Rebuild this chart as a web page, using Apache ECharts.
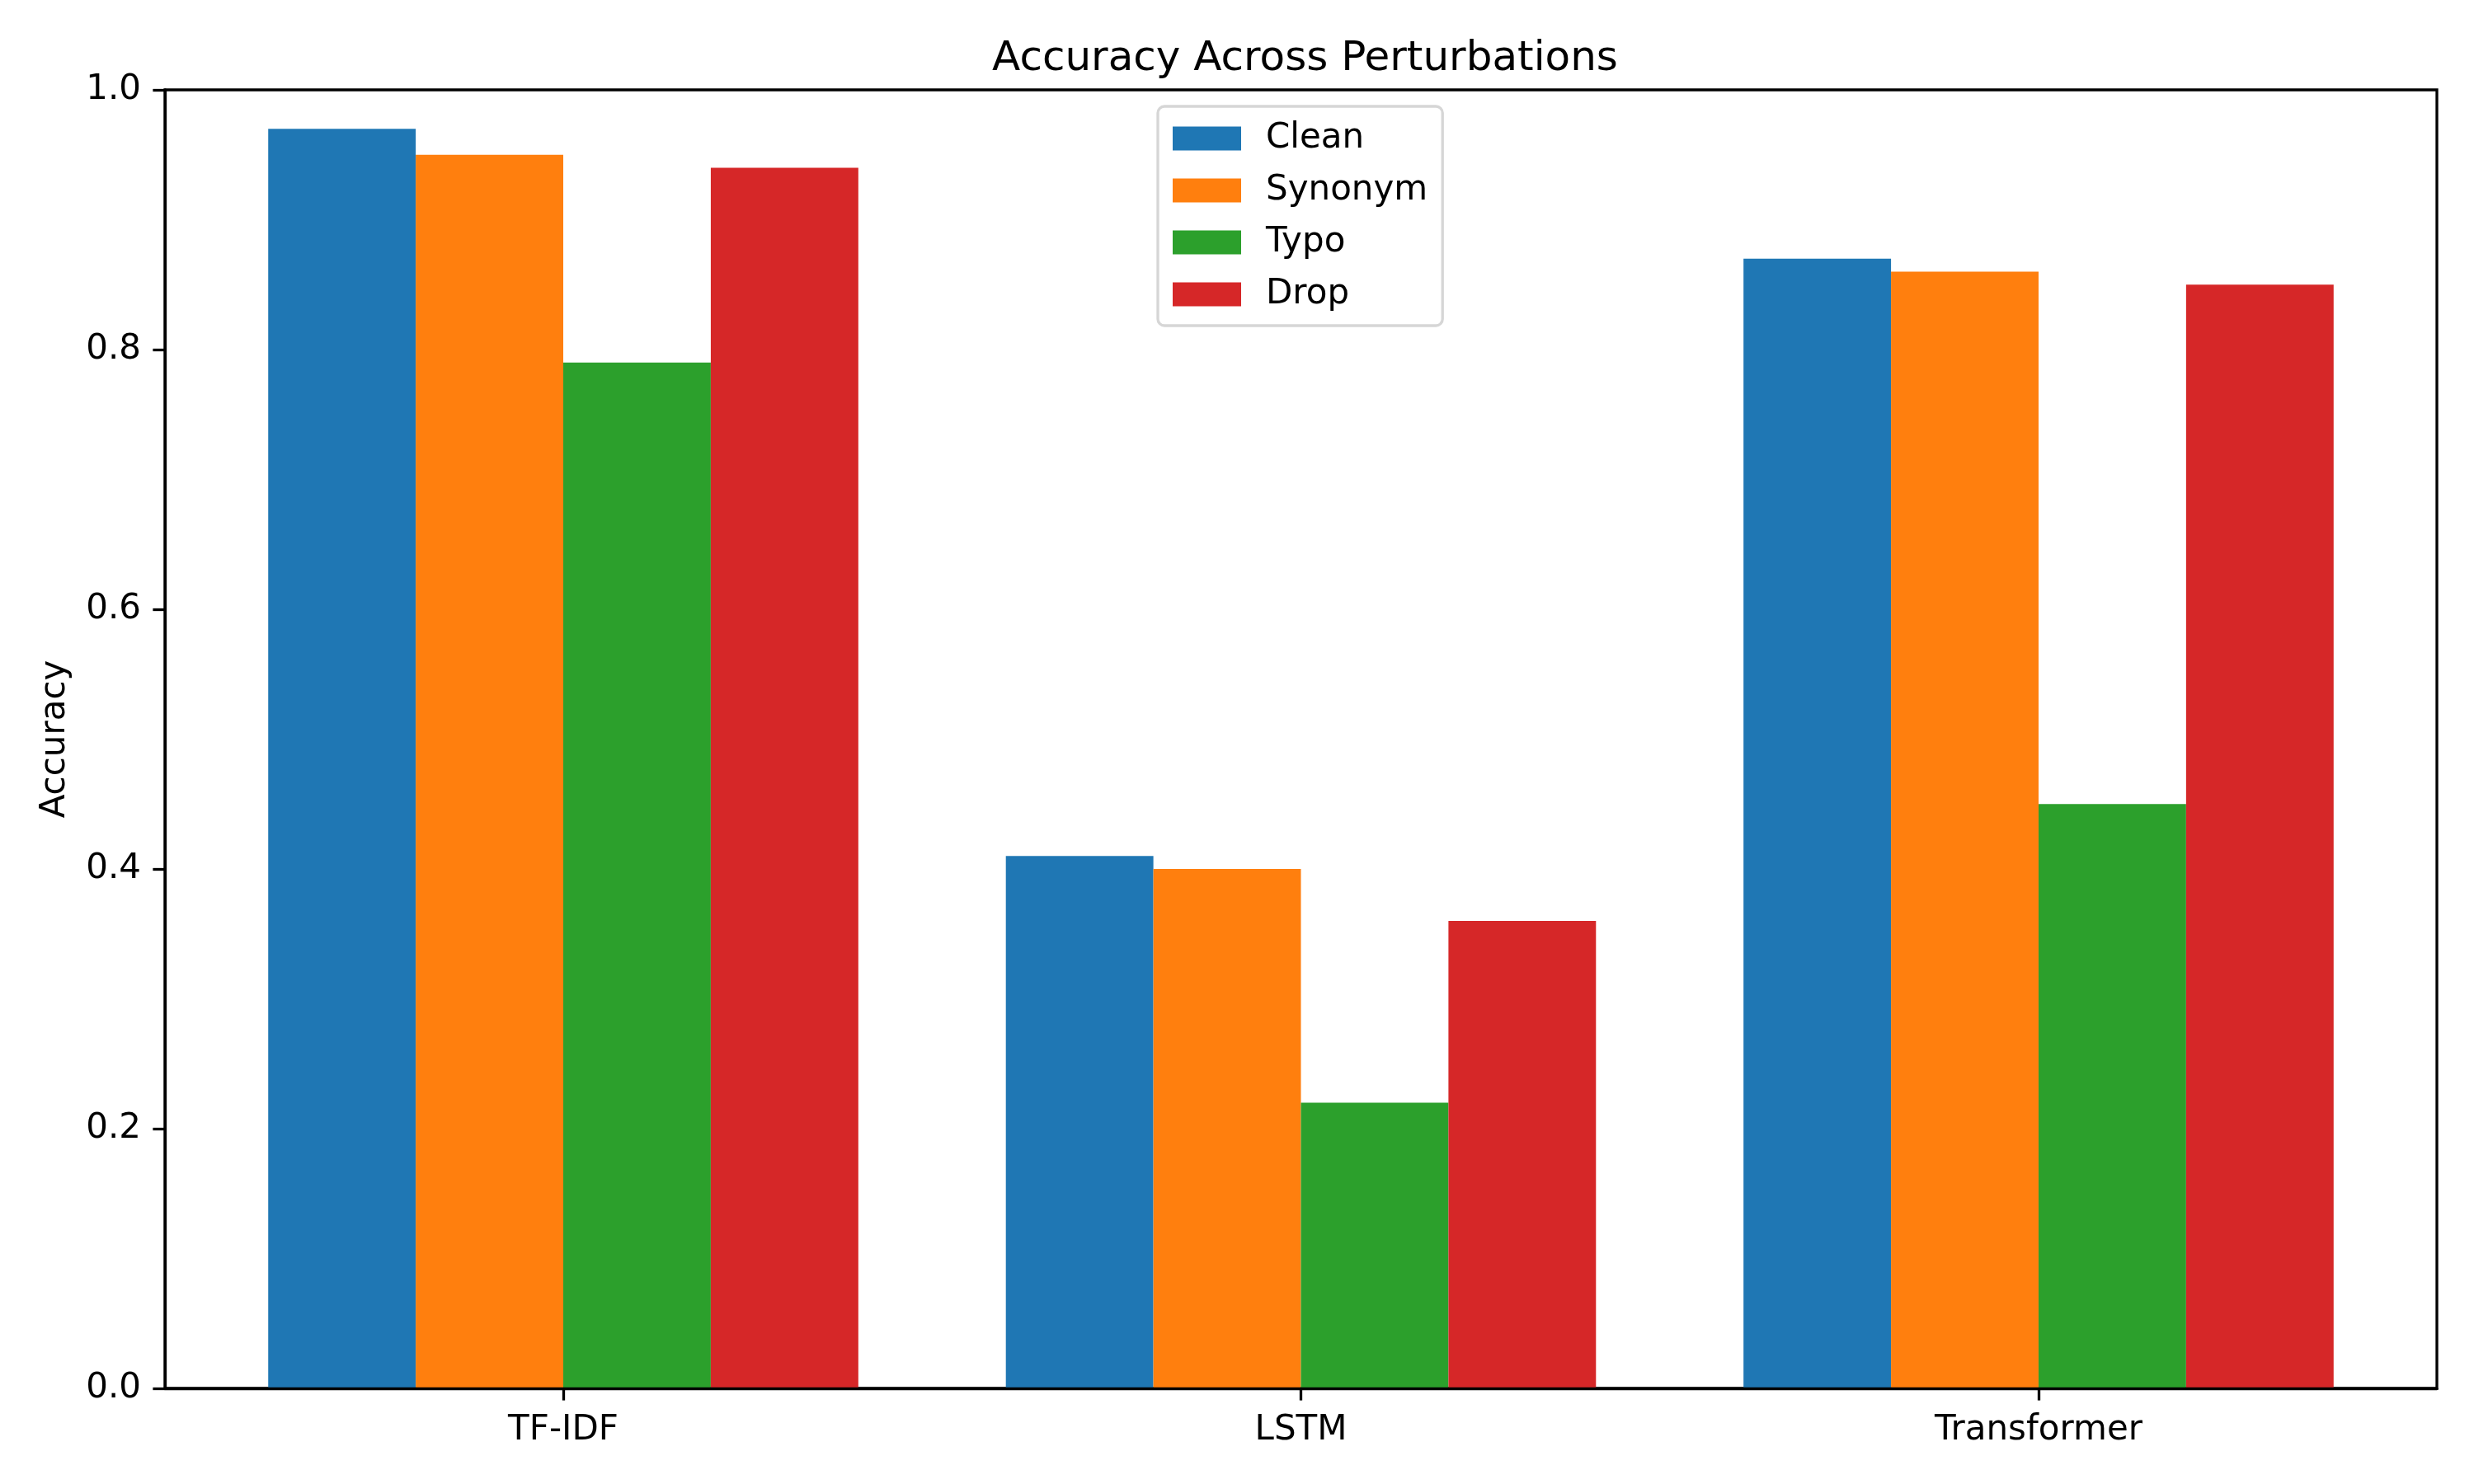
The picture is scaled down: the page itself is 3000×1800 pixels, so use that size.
<!DOCTYPE html>
<html>
<head>
<meta charset="utf-8">
<script src="https://cdn.jsdelivr.net/npm/echarts@6/dist/echarts.min.js"></script>
<style>
  html, body { margin: 0; padding: 0; background: #ffffff; }
  #chart { width: 3000px; height: 1800px; }
</style>
</head>
<body>
<div id="chart"></div>
<script>
// data
const models = ['TF-IDF', 'LSTM', 'Transformer'];
const perturbations = ['Clean', 'Synonym', 'Typo', 'Drop'];
const clean = [0.97, 0.41, 0.87];
const synonym = [0.95, 0.40, 0.86];
const typo = [0.79, 0.22, 0.45];
const drop = [0.94, 0.36, 0.85];
const yTicks = [0, 0.2, 0.4, 0.6, 0.8, 1.0];

const colors = ['#1f77b4', '#ff7f0e', '#2ca02c', '#d62728'];
const values = [clean, synonym, typo, drop];

// matplotlib-like layout: x = 0,1,2, bar width 0.2, 5% margins
const barUnit = 0.2;
const xMin = -0.54;
const xMax = 2.54;
const gridLeft = 200, gridRight = 45, gridTop = 109, gridBottom = 116;
const gridW = 3000 - gridLeft - gridRight;
const barPx = barUnit * gridW / (xMax - xMin);

const font = 'DejaVu Sans';
const lineW = 3.3;

const chart = echarts.init(document.getElementById('chart'));

const series = perturbations.map((name, i) => ({
  name: name,
  type: 'bar',
  barWidth: barPx,
  barGap: '0%',
  itemStyle: { color: colors[i] },
  data: values[i].map((v, j) => [j, v]),
}));

const option = {
  backgroundColor: '#ffffff',
  animation: false,
  title: {
    text: 'Accuracy Across Perturbations',
    left: gridLeft + gridW / 2,
    textAlign: 'center',
    top: 42,
    textStyle: {
      fontFamily: font,
      fontSize: 50,
      fontWeight: 'normal',
      color: '#000000',
    },
  },
  legend: {
    orient: 'vertical',
    left: 1404,
    top: 129,
    data: perturbations,
    icon: 'rect',
    itemWidth: 83,
    itemHeight: 29,
    itemGap: 21,
    padding: [18, 18, 17, 18],
    borderColor: '#d6d6d6',
    borderWidth: 3.3,
    borderRadius: 8,
    backgroundColor: '#ffffff',
    textStyle: {
      fontFamily: font,
      fontSize: 42,
      color: '#000000',
      padding: [0, 0, 0, 25],
      lineHeight: 42,
    },
  },
  grid: {
    left: gridLeft,
    right: gridRight,
    top: gridTop,
    bottom: gridBottom,
    show: true,
    borderColor: '#000000',
    borderWidth: lineW,
    containLabel: false,
  },
  xAxis: {
    type: 'value',
    min: xMin,
    max: xMax,
    z: 10,
    splitLine: { show: false },
    axisLine: { show: true, onZero: false, lineStyle: { color: '#000000', width: lineW } },
    axisTick: {
      show: true,
      customValues: [0, 1, 2],
      length: 14.6,
      lineStyle: { color: '#000000', width: lineW },
    },
    axisLabel: {
      customValues: [0, 1, 2],
      formatter: v => models[Math.round(v)],
      margin: 30,
      fontFamily: font,
      fontSize: 42,
      color: '#000000',
    },
  },
  yAxis: {
    type: 'value',
    min: 0,
    max: 1,
    interval: 0.2,
    z: 10,
    name: 'Accuracy',
    nameLocation: 'middle',
    nameRotate: 90,
    nameGap: 112,
    nameTextStyle: { fontFamily: font, fontSize: 42, color: '#000000' },
    splitLine: { show: false },
    axisLine: { show: true, onZero: false, lineStyle: { color: '#000000', width: lineW } },
    axisTick: {
      show: true,
      length: 14.6,
      lineStyle: { color: '#000000', width: lineW },
    },
    axisLabel: {
      customValues: yTicks,
      formatter: v => v.toFixed(1),
      margin: 29,
      fontFamily: font,
      fontSize: 42,
      color: '#000000',
    },
  },
  series: series,
};

chart.setOption(option);
</script>
</body>
</html>
